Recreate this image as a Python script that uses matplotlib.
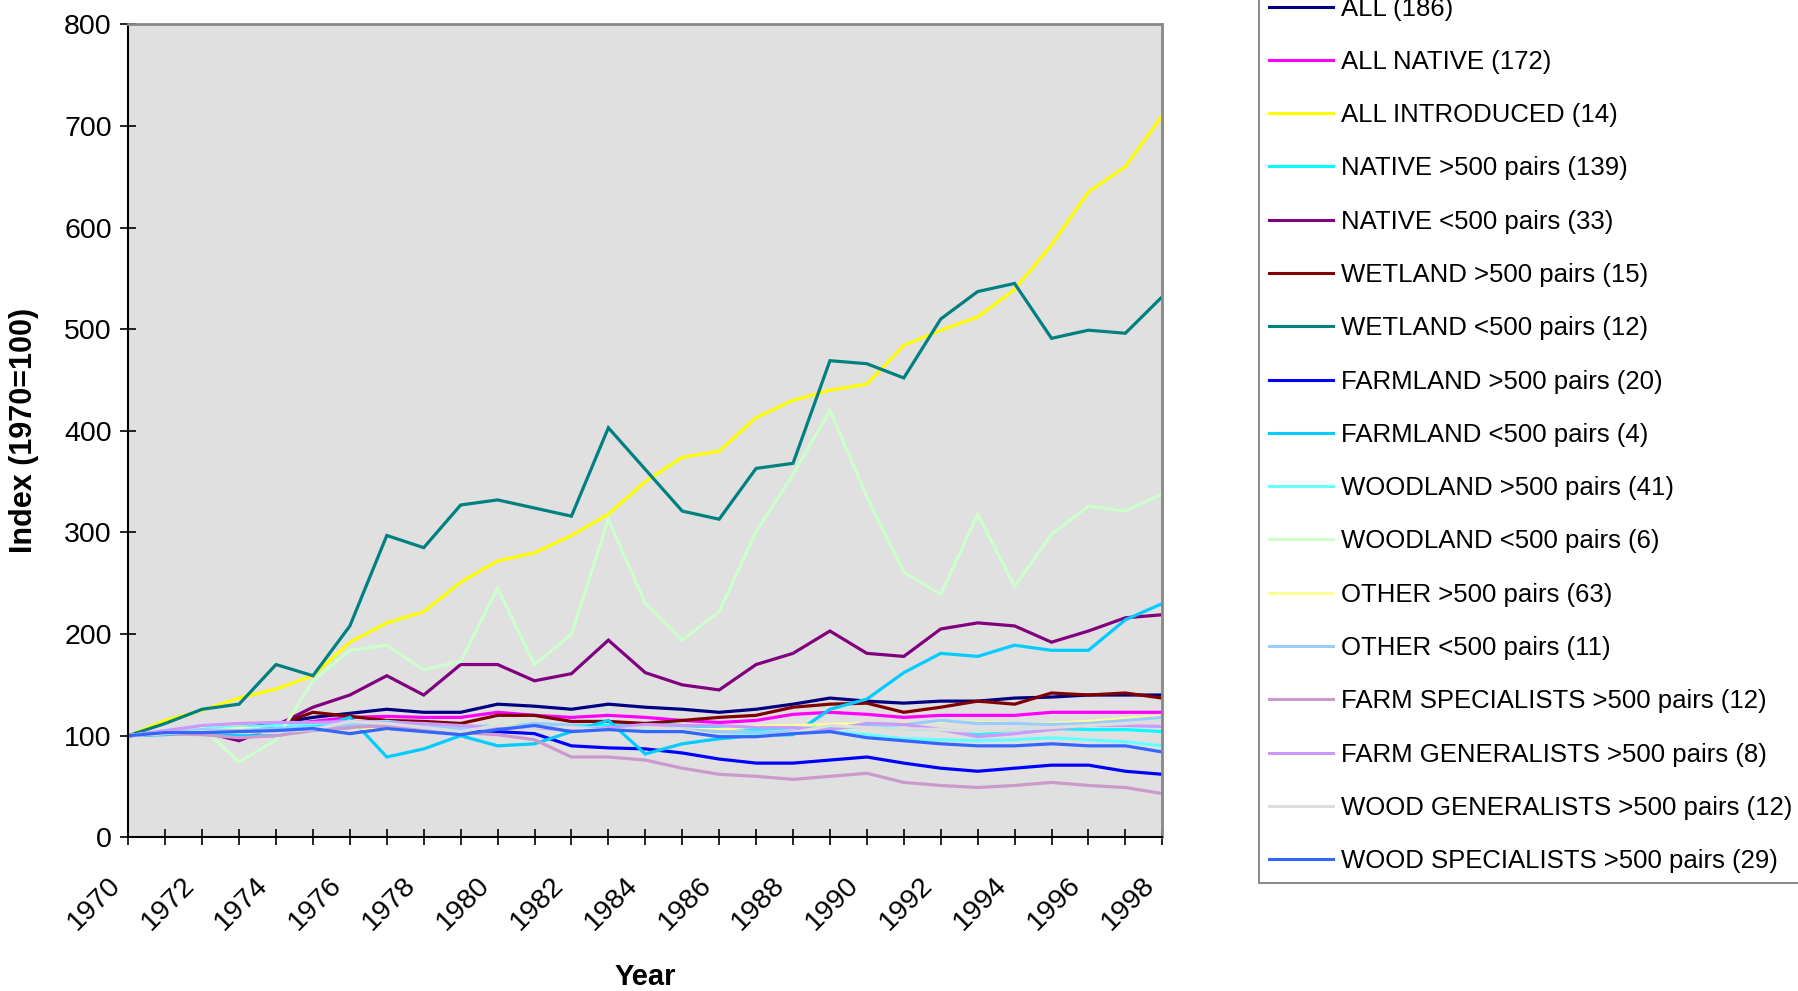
import matplotlib
matplotlib.use("Agg")
import matplotlib.pyplot as plt
import matplotlib.transforms as mtransforms

plt.rcParams['font.family'] = ['Liberation Sans', 'DejaVu Sans']

years = list(range(1970, 1999))

labels = [
    "ALL (186)", "ALL NATIVE (172)", "ALL INTRODUCED (14)",
    "NATIVE >500 pairs (139)", "NATIVE <500 pairs (33)",
    "WETLAND >500 pairs (15)", "WETLAND <500 pairs (12)",
    "FARMLAND >500 pairs (20)", "FARMLAND <500 pairs (4)",
    "WOODLAND >500 pairs (41)", "WOODLAND <500 pairs (6)",
    "OTHER >500 pairs (63)", "OTHER <500 pairs (11)",
    "FARM SPECIALISTS >500 pairs (12)", "FARM GENERALISTS >500 pairs (8)",
    "WOOD GENERALISTS >500 pairs (12)", "WOOD SPECIALISTS >500 pairs (29)",
]

all_birds = [100,103,104,107,112,118,122,126,123,123,
             131,129,126,131,128,126,123,126,131,137,
             134,132,134,134,137,138,140,140,140]
all_native = [100,103,105,107,110,114,118,119,118,118,
              123,120,118,120,118,115,113,115,121,123,
              121,118,120,120,120,123,123,123,123]
all_introduced = [100,115,125,137,146,159,192,211,222,251,
                  272,280,297,318,350,374,380,413,430,440,
                  446,484,499,512,539,583,635,660,710]
native_gt = [100,103,106,108,110,111,112,111,109,108,
             110,112,110,110,112,110,108,106,108,108,
             109,107,106,102,106,107,106,106,104]
native_lt = [100,103,104,95,110,128,140,159,140,170,
             170,154,161,194,162,150,145,170,181,203,
             181,178,205,211,208,192,203,216,219]
wetland_gt = [100,102,104,105,110,123,119,115,114,112,
              120,120,114,114,112,115,118,120,128,131,
              132,123,128,134,131,142,140,142,137]
wetland_lt = [100,112,126,131,170,159,208,297,285,327,
              332,324,316,403,362,321,313,363,368,469,
              466,452,510,537,545,491,499,496,532]
farmland_gt = [100,102,103,104,105,107,108,110,108,105,
               104,102,90,88,87,83,77,73,73,76,
               79,73,68,65,68,71,71,65,62]
farmland_lt = [100,101,103,100,100,107,118,79,87,100,
               90,92,104,115,82,92,97,100,101,126,
               136,162,181,178,189,184,184,214,230]
woodland_gt = [100,104,107,108,110,112,113,114,111,108,
               107,110,108,108,106,104,100,100,103,104,
               101,97,96,95,96,98,96,94,90]
woodland_lt = [100,104,108,74,96,154,184,189,165,173,
               245,170,200,313,230,194,222,301,357,420,
               335,261,239,318,247,298,326,321,338]
other_gt = [100,103,105,107,106,107,108,106,110,107,
            110,112,109,106,108,106,106,109,110,111,
            112,112,114,113,112,112,114,117,119]
other_lt = [100,104,106,105,107,108,110,112,110,107,
            108,112,110,106,108,106,104,103,104,106,
            112,111,115,112,112,111,112,115,118]
farm_spec = [100,102,101,98,100,105,108,110,106,103,
             101,96,79,79,76,68,62,60,57,60,
             63,54,51,49,51,54,51,49,43]
farm_gen = [100,105,110,112,113,113,114,113,112,110,
            108,108,105,108,111,110,110,108,108,106,
            112,111,106,99,102,106,110,110,109]
wood_gen = [100,102,104,103,104,106,114,112,108,104,
            110,108,108,105,108,106,100,98,103,110,
            108,107,106,104,106,108,110,112,114]
wood_spec = [100,103,103,104,105,107,102,107,104,101,
             106,110,104,106,104,104,99,99,102,104,
             98,95,92,90,90,92,90,90,84]

series = [all_birds, all_native, all_introduced, native_gt, native_lt,
          wetland_gt, wetland_lt, farmland_gt, farmland_lt, woodland_gt,
          woodland_lt, other_gt, other_lt, farm_spec, farm_gen, wood_gen,
          wood_spec]
colors = ["#000080", "#FF00FF", "#FFFF00", "#00FFFF", "#800080",
          "#800000", "#008080", "#0000FF", "#00CCFF", "#66FFFF",
          "#CCFFCC", "#FFFF99", "#99CCFF", "#CC99CC", "#CC99FF",
          "#DDDDDD", "#3366FF"]

W, H = 1799, 991
fig = plt.figure(figsize=(W / 100, H / 100), dpi=100)
fig.patch.set_facecolor("white")
ax = fig.add_axes([128.3 / W, 1 - 837.3 / H, (1162.3 - 128.3) / W, (837.3 - 24.3) / H])
ax.set_facecolor("#E0E0E0")

handles = []
for vals, col, lab in zip(series, colors, labels):
    h, = ax.plot(years, vals, color=col, lw=2.3, label=lab, solid_joinstyle='miter')
    handles.append(h)

ax.set_xlim(1970, 1998)
ax.set_ylim(0, 800)
ax.set_yticks(range(0, 801, 100))
ax.set_xticks(years)
ax.set_xticklabels([str(y) if (y - 1970) % 2 == 0 else "" for y in years],
                   rotation=45, ha='right', va='top', rotation_mode='anchor')
ax.tick_params(axis='both', direction='inout', length=12, width=1.2, color='black',
               labelsize=20.5)
ax.tick_params(axis='y', pad=6)
ax.tick_params(axis='x', pad=12)

offset = mtransforms.ScaledTranslation(-21 / 100, -10 / 100, fig.dpi_scale_trans)
for lbl in ax.get_xticklabels():
    lbl.set_transform(lbl.get_transform() + offset)

for s in ['left', 'bottom']:
    ax.spines[s].set_color('black')
    ax.spines[s].set_linewidth(1.5)
for s in ['top', 'right']:
    ax.spines[s].set_color('#888888')
    ax.spines[s].set_linewidth(2)

ax.set_xlabel("Year", fontsize=21, fontweight='bold')
ax.set_ylabel("Index (1970=100)", fontsize=22, fontweight='bold')
ax.xaxis.set_label_coords(0.5, -0.155)
ax.yaxis.set_label_coords(-0.086, 0.5)

leg = fig.legend(handles=handles, loc='lower left',
                 bbox_to_anchor=(1259 / W, 1 - 883 / H),
                 fontsize=18.5, frameon=True, fancybox=False,
                 handlelength=2.5, handletextpad=0.3, borderpad=0.38,
                 labelspacing=1.14, borderaxespad=0)
leg.get_frame().set_edgecolor('#555555')
leg.get_frame().set_linewidth(1.2)
for lh in leg.get_lines():
    lh.set_linewidth(2.2)

fig.savefig("out.png", dpi=100)
